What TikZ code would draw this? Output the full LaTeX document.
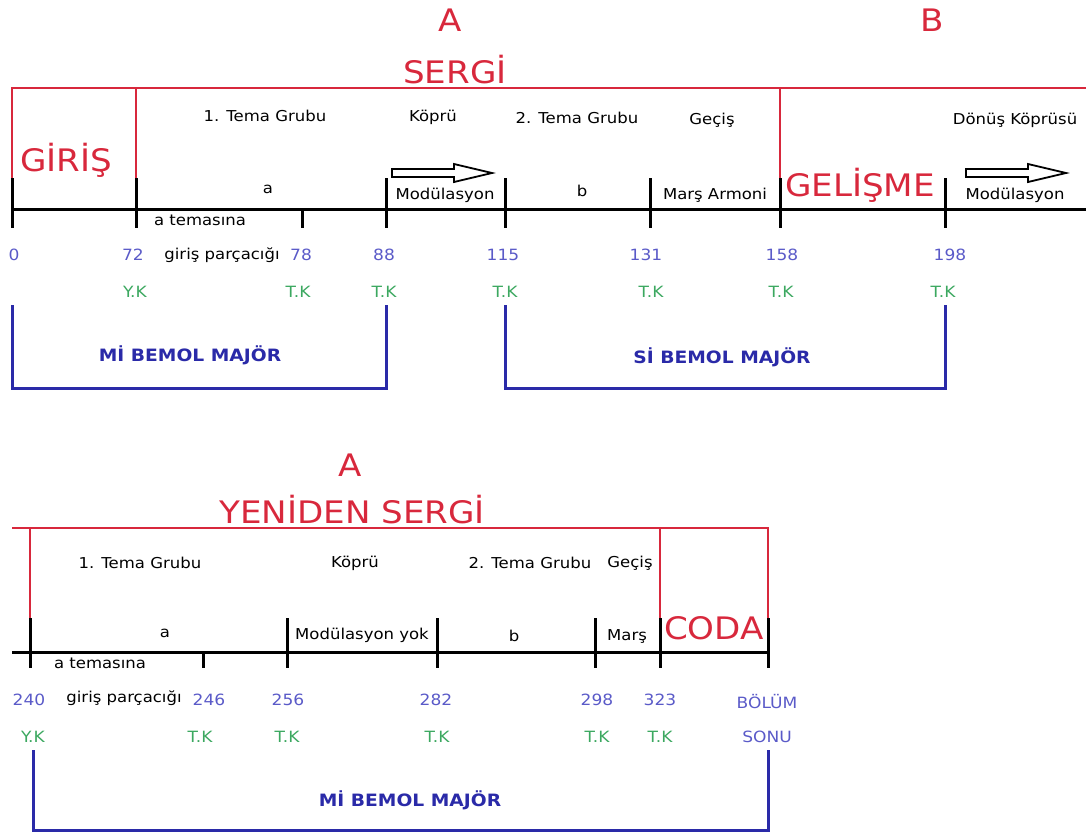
\documentclass[tikz,border=0pt]{standalone}
\usepackage{fontspec}
\setmainfont{DejaVu Sans}[FakeStretch=1.1]
\usepackage{tikz}
\usetikzlibrary{positioning}
\definecolor{formred}{HTML}{D8283C}
\definecolor{barblue}{HTML}{5A5AC8}
\definecolor{cadgreen}{HTML}{3CA860}
\definecolor{keyblue}{HTML}{2A2AA8}
\tikzset{section/.style={text=formred,font=\fontsize{31}{33}\selectfont,inner sep=0pt},
 part/.style={text=black,font=\fontsize{15}{17}\selectfont,inner sep=1pt},
 barno/.style={text=barblue,font=\fontsize{15.5}{17}\selectfont,inner sep=1pt},
 cadence/.style={text=cadgreen,font=\fontsize{15.5}{17}\selectfont,inner sep=1pt},
 keyname/.style={text=keyblue,font=\bfseries\fontsize{17}{19}\selectfont},
 formline/.style={draw=formred,line width=2.2pt},
 timeline/.style={draw=black,line width=3pt},
 keyline/.style={draw=keyblue,line width=3pt}}
\newcommand{\modarrow}[2]{%
 \draw[black,line width=1.8pt] (#1,#2-4) -- ++(62,0) -- ++(0,-5) -- ++(38,9)
   -- ++(-38,9) -- ++(0,-5) -- ++(-62,0) -- cycle;}

\begin{document}
\begin{tikzpicture}[x=1pt,y=-1pt]
 \useasboundingbox (0,0) rectangle (1086,836);
 % exposition and development
 \node[section] (aone) at (450,20) {A};
 \node[section] (sergi) at (455,70) {SERGİ};
 \node[section] (bone) at (932,20) {B};
 \draw[formline] (12,178) -- (12,88) -- (1086,88);
 \draw[formline] (136,88) -- (136,178);
 \draw[formline] (780,88) -- (780,178);
 \draw[timeline] (12,209) -- (1086,209);
 \foreach \x in {12,136,386,505,650,780,945}
  \draw[timeline] (\x,178) -- (\x,228);
 \draw[timeline] (302,209) -- (302,228);
 \node[section] (giris) at (66,160) {GİRİŞ};
 \node[section] (gelisme) at (860,185) {GELİŞME};
 \node[part] (tema1) at (265,116) {1. Tema Grubu};
 \node[part] (kopru) at (433,117) {Köprü};
 \node[part] (tema2) at (577,118) {2. Tema Grubu};
 \node[part] (gecis) at (712,120) {Geçiş};
 \node[part] (donus) at (1015,120) {Dönüş Köprüsü};
 \node[part] (tema1a) at (268,189) {a};
 \node[part] (tema2b) at (582,191) {b};
 \node[part] (modone) at (445,195) {Modülasyon};
 \node[part] (mars) at (715,195) {Marş Armoni};
 \node[part] (modtwo) at (1015,195) {Modülasyon};
 \modarrow{392}{173}
 \modarrow{966}{173}
 \node[part] (tem) at (200,220) {a temasına};
 \node[part] (parc) at (222,255) {giriş parçacığı};
 \foreach \x/\n in {14/0,133/72,301/78,384/88,503/115,646/131,782/158,950/198}
  \node[barno] (n\n) at (\x,255) {\n};
 \node[cadence] (yk) at (135,292) {Y.K};
 \foreach \x [count=\i] in {298,384,505,651,781,943}
  \node[cadence] (tk\i) at (\x,292) {T.K};
 \draw[keyline] (12,305) -- (12,388) -- (386,388) -- (386,305);
 \draw[keyline] (505,305) -- (505,388) -- (945,388) -- (945,305);
 \node[keyname] (mib) at (190,355) {Mİ BEMOL MAJÖR};
 \node[keyname] (sib) at (722,357) {Sİ BEMOL MAJÖR};
 % recapitulation and coda
 \node[section] (atwo) at (350,465) {A};
 \node[section] (yeniden) at (352,510) {YENİDEN SERGİ};
 \draw[formline] (12,528) -- (768,528) -- (768,618);
 \draw[formline] (30,528) -- (30,618);
 \draw[formline] (660,528) -- (660,618);
 \draw[timeline] (12,652) -- (768,652);
 \foreach \x in {30,287,437,595,660,768}
  \draw[timeline] (\x,618) -- (\x,668);
 \draw[timeline] (203,652) -- (203,668);
 \node[part] (rtema1) at (140,563) {1. Tema Grubu};
 \node[part] (rkopru) at (355,563) {Köprü};
 \node[part] (rtema2) at (530,563) {2. Tema Grubu};
 \node[part] (rgecis) at (630,563) {Geçiş};
 \node[part] (rtema1a) at (165,633) {a};
 \node[part] (rmod) at (362,635) {Modülasyon yok};
 \node[part] (rtema2b) at (514,636) {b};
 \node[part] (rmars) at (627,636) {Marş};
 \node[section] (coda) at (714,628) {CODA};
 \node[part] (rtem) at (100,663) {a temasına};
 \node[part] (rparc) at (124,698) {giriş parçacığı};
 \foreach \x/\n in {29/240,209/246,288/256,436/282,597/298,660/323}
  \node[barno] (n\n) at (\x,700) {\n};
 \node[barno] (bolum) at (767,702) {BÖLÜM};
 \node[barno] (sonu) at (767,737) {SONU};
 \node[cadence] (ryk) at (33,737) {Y.K};
 \foreach \x [count=\i] in {200,287,437,597,660}
  \node[cadence] (rtk\i) at (\x,737) {T.K};
 \draw[keyline] (33,750) -- (33,830) -- (768,830) -- (768,750);
 \node[keyname] (rmib) at (410,800) {Mİ BEMOL MAJÖR};
\end{tikzpicture}
\end{document}
